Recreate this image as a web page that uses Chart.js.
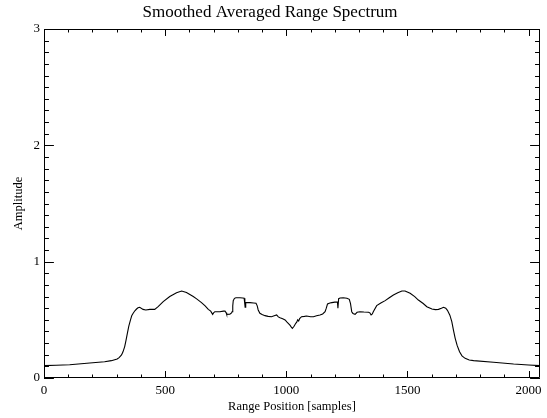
<!DOCTYPE html>
<html>
<head>
<meta charset="utf-8">
<script src="https://cdn.jsdelivr.net/npm/chart.js@4/dist/chart.umd.min.js"></script>
<style>
  html, body { margin: 0; padding: 0; background: #fff; }
  #wrap { width: 547px; height: 418px; }
</style>
</head>
<body>
<div id="wrap"><canvas id="spectrum"></canvas></div>
<script>
// range position (samples) and smoothed amplitude
const rangePos = [
  0, 50, 106, 189, 250, 278, 302, 310, 320, 326, 333, 338, 344, 350, 357, 362,
  368, 375, 382, 388, 395, 409, 420, 437, 457, 471, 492, 519, 547, 568, 588,
  616, 630, 650, 665, 678, 688, 696, 700, 705, 726, 740, 747, 752, 754, 767,
  774, 776, 779, 781, 786, 792, 809, 820, 826, 829, 830, 832, 833, 850, 865,
  875, 880, 884, 891, 900, 912, 925, 939, 950, 960, 967, 974, 985, 995, 1003,
  1008, 1015, 1020, 1025, 1032, 1039, 1043, 1047, 1051, 1055, 1063, 1075,
  1084, 1100, 1112, 1125, 1139, 1150, 1160, 1165, 1170, 1180, 1188, 1200,
  1211, 1213, 1216, 1222, 1235, 1250, 1260, 1265, 1270, 1275, 1284, 1292,
  1304, 1320, 1339, 1345, 1350, 1355, 1359, 1373, 1390, 1408, 1425, 1442,
  1460, 1477, 1490, 1511, 1530, 1545, 1565, 1580, 1601, 1615, 1628, 1640,
  1649, 1658, 1665, 1675, 1683, 1690, 1697, 1705, 1715, 1725, 1738, 1755,
  1773, 1855, 1938, 2000, 2047
];
const amplitude = [
  0.106, 0.110, 0.114, 0.129, 0.140, 0.149, 0.163, 0.175, 0.198, 0.225, 0.270, 0.320, 0.384, 0.445, 0.500, 0.535,
  0.556, 0.578, 0.593, 0.603, 0.608, 0.590, 0.585, 0.590, 0.590, 0.613, 0.656, 0.700, 0.733, 0.748, 0.735,
  0.700, 0.680, 0.648, 0.620, 0.590, 0.575, 0.547, 0.560, 0.570, 0.570, 0.575, 0.576, 0.560, 0.547, 0.548,
  0.560, 0.570, 0.620, 0.665, 0.685, 0.690, 0.690, 0.688, 0.685, 0.630, 0.608, 0.640, 0.648, 0.648, 0.645,
  0.642, 0.620, 0.585, 0.556, 0.545, 0.536, 0.530, 0.527, 0.535, 0.542, 0.525, 0.518, 0.510, 0.499, 0.480,
  0.470, 0.455, 0.440, 0.427, 0.445, 0.470, 0.480, 0.500, 0.490, 0.510, 0.527, 0.530,
  0.533, 0.527, 0.527, 0.535, 0.542, 0.550, 0.570, 0.600, 0.636, 0.645, 0.648, 0.652,
  0.654, 0.600, 0.682, 0.688, 0.690, 0.685, 0.676, 0.640, 0.570, 0.555, 0.547, 0.565,
  0.570, 0.567, 0.565, 0.560, 0.542, 0.550, 0.570, 0.622, 0.645, 0.665, 0.690, 0.714,
  0.733, 0.748, 0.748, 0.728, 0.700, 0.670, 0.640, 0.613, 0.593, 0.588, 0.590, 0.600,
  0.608, 0.600, 0.582, 0.540, 0.484, 0.410, 0.341, 0.280, 0.226, 0.190, 0.169, 0.155,
  0.149, 0.135, 0.120, 0.112, 0.106
];
const xMajorTicks = [0, 500, 1000, 1500, 2000];
const yMajorTicks = [0, 1, 2, 3];

const serif = "'Liberation Serif', 'DejaVu Serif', serif";

// IDL-style frame: box round the plot with inward ticks on all four sides
const idlFrame = {
  id: "idlFrame",
  afterDraw(chart) {
    const { ctx, chartArea: a, scales } = chart;
    const xs = scales.x;
    const ys = scales.y;
    const xLen = 0.02 * (a.bottom - a.top);
    const yLen = 0.02 * (a.right - a.left);
    ctx.save();
    ctx.strokeStyle = "#000";
    ctx.lineWidth = 1;
    ctx.beginPath();
    ctx.rect(a.left + 0.5, a.top + 0.5, a.right - a.left - 1, a.bottom - a.top - 1);
    for (let v = 0; v <= xs.max; v += 100) {
      const px = Math.round(xs.getPixelForValue(v)) + 0.5;
      const len = v % 500 === 0 ? xLen : xLen / 2;
      ctx.moveTo(px, a.bottom);
      ctx.lineTo(px, a.bottom - len);
      ctx.moveTo(px, a.top);
      ctx.lineTo(px, a.top + len);
    }
    for (let i = 0; i <= 30; i++) {
      const py = Math.round(ys.getPixelForValue(i / 10)) + 0.5;
      const len = i % 10 === 0 ? yLen : yLen / 2;
      ctx.moveTo(a.left, py);
      ctx.lineTo(a.left + len, py);
      ctx.moveTo(a.right, py);
      ctx.lineTo(a.right - len, py);
    }
    ctx.stroke();
    ctx.restore();
  },
};

Chart.defaults.color = "#000";
Chart.defaults.font.family = serif;

new Chart(document.getElementById("spectrum"), {
  type: "line",
  data: {
    datasets: [
      {
        data: rangePos.map((x, i) => ({ x: x, y: amplitude[i] })),
        borderColor: "#000",
        borderWidth: 1.1,
        pointRadius: 0,
        tension: 0,
        fill: false,
      },
    ],
  },
  options: {
    responsive: true,
    maintainAspectRatio: false,
    animation: false,
    layout: { padding: { left: 0, right: 7, top: 0, bottom: 0 } },
    plugins: {
      legend: { display: false },
      tooltip: { enabled: false },
      title: {
        display: true,
        text: "Smoothed Averaged Range Spectrum",
        font: { size: 17, weight: "normal", family: serif },
        padding: { top: 2, bottom: 6.6 },
      },
    },
    scales: {
      x: {
        type: "linear",
        min: 0,
        max: 2047,
        grid: { display: false, drawTicks: false },
        border: { display: false },
        afterBuildTicks: (scale) => {
          scale.ticks = xMajorTicks.map((v) => ({ value: v }));
        },
        afterFit: (scale) => {
          scale.height = 40;
        },
        ticks: {
          padding: 5,
          maxRotation: 0,
          font: { size: 13, family: serif },
          callback: (v) => String(v),
        },
        title: {
          display: true,
          text: "Range Position [samples]",
          font: { size: 12.5, family: serif },
          padding: { top: 0, bottom: 4 },
        },
      },
      y: {
        type: "linear",
        min: 0,
        max: 3,
        grid: { display: false, drawTicks: false },
        border: { display: false },
        afterBuildTicks: (scale) => {
          scale.ticks = yMajorTicks.map((v) => ({ value: v }));
        },
        afterFit: (scale) => {
          scale.width = 44;
        },
        ticks: { padding: 4, font: { size: 13, family: serif }, callback: (v) => String(v) },
        title: {
          display: true,
          text: "Amplitude",
          font: { size: 12.5, family: serif },
          padding: { top: 11, bottom: 0 },
        },
      },
    },
  },
  plugins: [idlFrame],
});
</script>
</body>
</html>
